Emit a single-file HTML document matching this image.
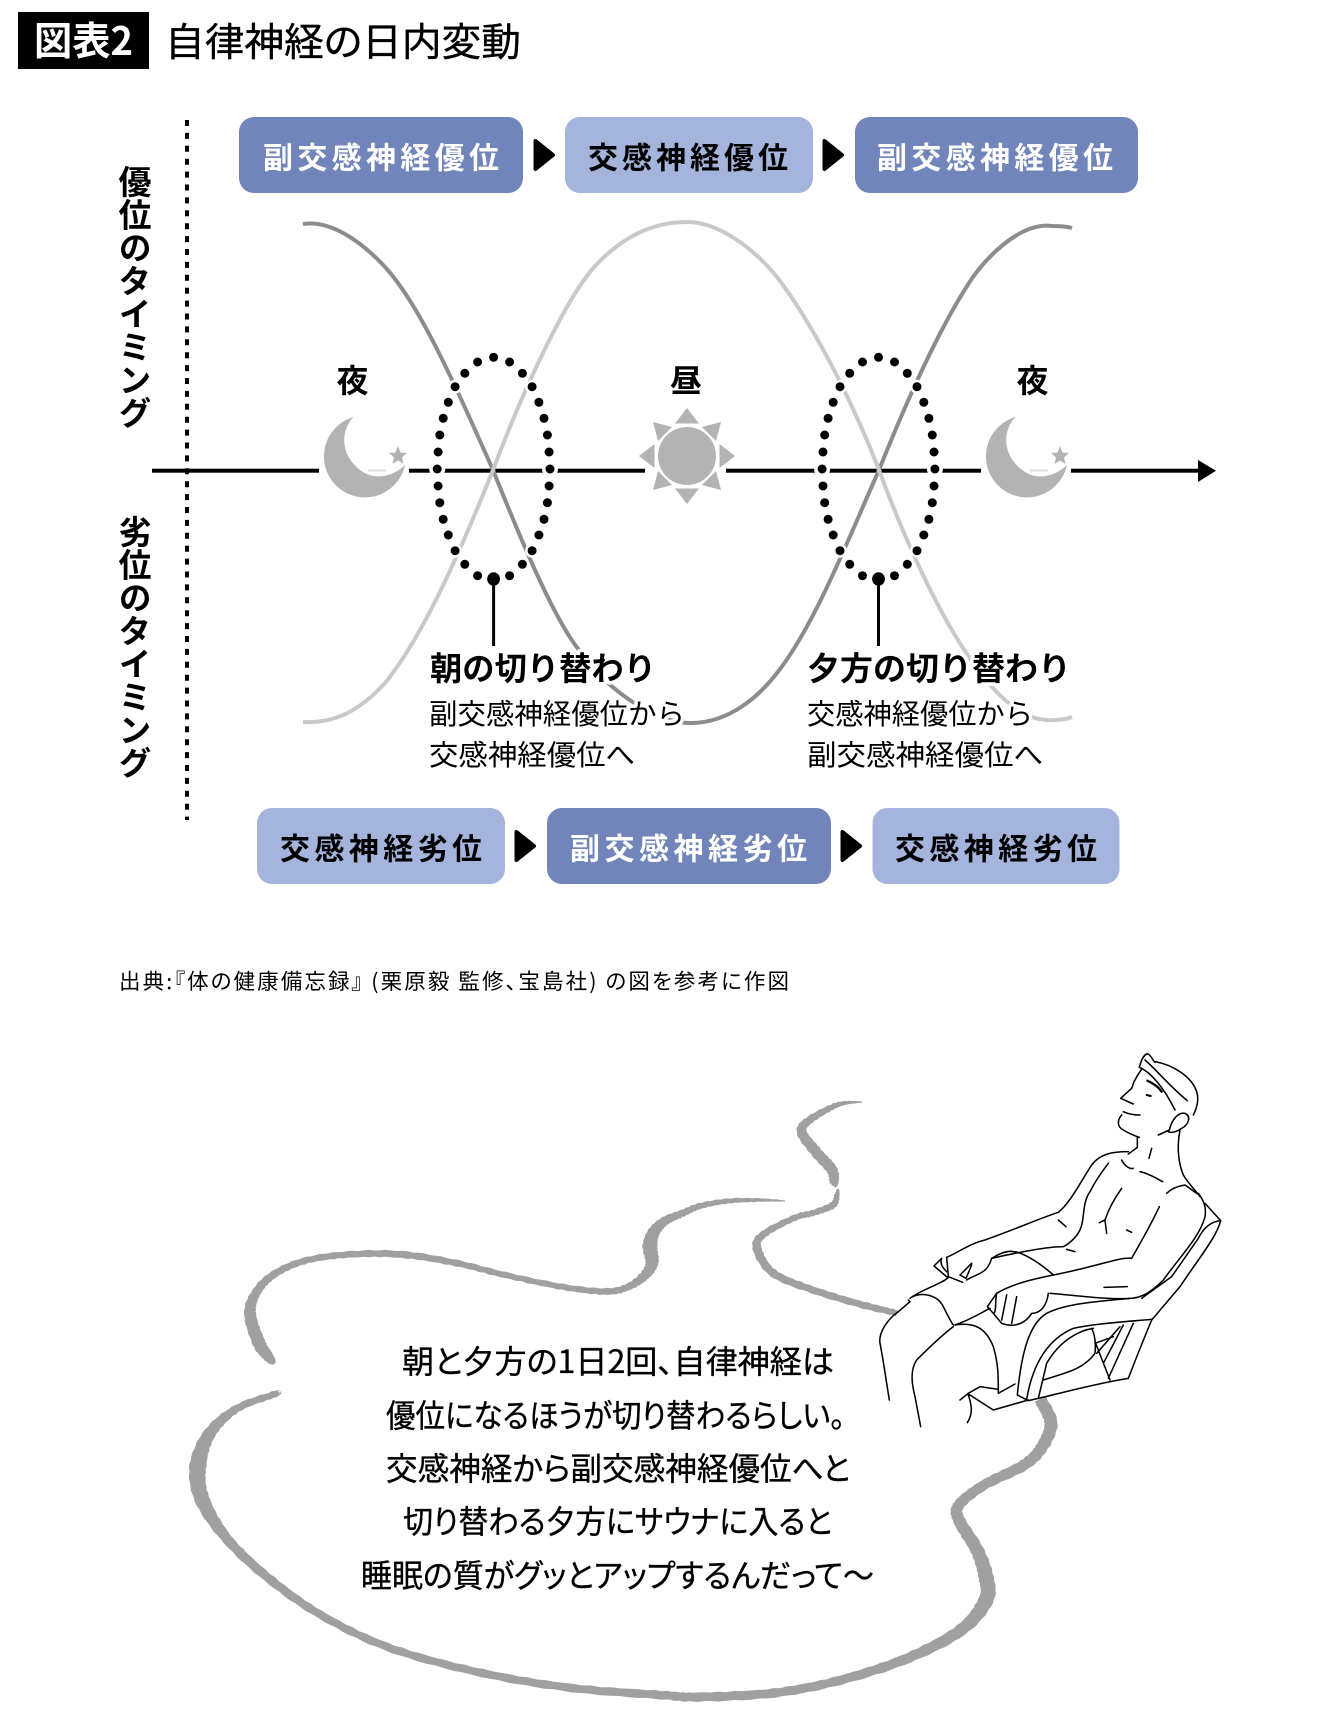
<!DOCTYPE html>
<html lang="ja"><head><meta charset="utf-8"><title>図表2</title>
<style>
html,body{margin:0;padding:0;background:#fff;width:1340px;height:1724px;overflow:hidden}
svg{display:block}
text{font-family:"Liberation Sans","Noto Sans CJK JP",sans-serif;fill:#000}
.b{font-weight:700}
.halo{paint-order:stroke;stroke:#fff;stroke-width:7px;stroke-linejoin:round}
.w{fill:#fff}
.k{fill:#000}
.n{font-family:"Noto Sans CJK JP",sans-serif;font-feature-settings:"palt"}
.m{stroke:#000;stroke-width:.35px}
</style></head><body>
<svg width="1340" height="1724" viewBox="0 0 1340 1724" xmlns="http://www.w3.org/2000/svg">
<defs>
<g id="ring">
<g fill="#fff">
<circle cx="0" cy="357.3" r="7"/><circle cx="-16" cy="362" r="7"/><circle cx="16" cy="362" r="7"/><circle cx="-28.8" cy="373.3" r="7"/><circle cx="28.8" cy="373.3" r="7"/><circle cx="-38.5" cy="386.7" r="7"/><circle cx="38.5" cy="386.7" r="7"/><circle cx="-45.3" cy="402.3" r="7"/><circle cx="45.3" cy="402.3" r="7"/><circle cx="-50.4" cy="418.3" r="7"/><circle cx="50.4" cy="418.3" r="7"/><circle cx="-53.8" cy="435" r="7"/><circle cx="53.8" cy="435" r="7"/><circle cx="-55.5" cy="452" r="7"/><circle cx="55.5" cy="452" r="7"/><circle cx="-56.4" cy="469" r="8"/><circle cx="56.4" cy="469" r="8"/><circle cx="-55.5" cy="486" r="7"/><circle cx="55.5" cy="486" r="7"/><circle cx="-53.8" cy="502.7" r="7"/><circle cx="53.8" cy="502.7" r="7"/><circle cx="-50.4" cy="519.3" r="7"/><circle cx="50.4" cy="519.3" r="7"/><circle cx="-45.3" cy="535" r="7"/><circle cx="45.3" cy="535" r="7"/><circle cx="-38.5" cy="550.7" r="7"/><circle cx="38.5" cy="550.7" r="7"/><circle cx="-28.8" cy="564.3" r="7"/><circle cx="28.8" cy="564.3" r="7"/><circle cx="-16" cy="575.7" r="7"/><circle cx="16" cy="575.7" r="7"/>
</g>
<g fill="#000">
<circle cx="0" cy="357.3" r="4.5"/><circle cx="-16" cy="362" r="4.5"/><circle cx="16" cy="362" r="4.5"/><circle cx="-28.8" cy="373.3" r="4.5"/><circle cx="28.8" cy="373.3" r="4.5"/><circle cx="-38.5" cy="386.7" r="4.5"/><circle cx="38.5" cy="386.7" r="4.5"/><circle cx="-45.3" cy="402.3" r="4.5"/><circle cx="45.3" cy="402.3" r="4.5"/><circle cx="-50.4" cy="418.3" r="4.5"/><circle cx="50.4" cy="418.3" r="4.5"/><circle cx="-53.8" cy="435" r="4.5"/><circle cx="53.8" cy="435" r="4.5"/><circle cx="-55.5" cy="452" r="4.5"/><circle cx="55.5" cy="452" r="4.5"/><circle cx="-56.4" cy="469" r="4.5"/><circle cx="56.4" cy="469" r="4.5"/><circle cx="-55.5" cy="486" r="4.5"/><circle cx="55.5" cy="486" r="4.5"/><circle cx="-53.8" cy="502.7" r="4.5"/><circle cx="53.8" cy="502.7" r="4.5"/><circle cx="-50.4" cy="519.3" r="4.5"/><circle cx="50.4" cy="519.3" r="4.5"/><circle cx="-45.3" cy="535" r="4.5"/><circle cx="45.3" cy="535" r="4.5"/><circle cx="-38.5" cy="550.7" r="4.5"/><circle cx="38.5" cy="550.7" r="4.5"/><circle cx="-28.8" cy="564.3" r="4.5"/><circle cx="28.8" cy="564.3" r="4.5"/><circle cx="-16" cy="575.7" r="4.5"/><circle cx="16" cy="575.7" r="4.5"/>
<ellipse cx="0" cy="579" rx="6.4" ry="6.8"/>
<rect x="-1.5" y="579" width="3" height="67"/>
</g>
</g>
<g id="moon">
<rect x="-6" y="464" width="90" height="13" fill="#fff"/>
<rect x="43" y="469.5" width="18" height="2" fill="#ddd"/>
<path d="M28.5 417 A41 41 0 1 0 80 465 C70 475 52 481 38 472 C16 458 14 432 28.5 417Z" fill="#b3b3b3"/>
<path d="M73 446 L75.5 452.5 L82 453 L77 457.5 L78.5 464 L73 460.5 L67.5 464 L69 457.5 L64 453 L70.500 452.5Z" fill="#b3b3b3"/>
</g>
</defs>

<!-- header -->
<rect x="18" y="12" width="131" height="57" fill="#000"/>
<text class="n b w" x="34" y="55" font-size="39" textLength="99" lengthAdjust="spacingAndGlyphs">図表2</text>
<text class="n m" x="165" y="56" font-size="39" textLength="356" lengthAdjust="spacingAndGlyphs" fill="#222">自律神経の日内変動</text>

<!-- vertical dotted -->
<line x1="187" y1="120" x2="187" y2="820" stroke="#000" stroke-width="4" stroke-dasharray="6 6.9"/>

<!-- vertical labels -->
<text class="b k" font-size="33" style="writing-mode:vertical-rl;letter-spacing:0" x="132.500" y="165">優位のタイミング</text>
<text class="b k" font-size="33" style="writing-mode:vertical-rl;letter-spacing:0" x="132.500" y="515">劣位のタイミング</text>

<!-- axis -->
<rect x="152" y="468.700" width="1048" height="4" fill="#000"/>
<polygon points="1198,460 1216,470.700 1198,482" fill="#000"/>

<!-- curves -->
<path d="M303 224 C330 220 360 240 385 267 C420 305 455 385 493 470 C525 550 555 620 579 650 C600 682 650 723 691 723 C730 723 760 695 777 673 C815 625 850 535 879 470 C915 380 945 320 969 283 C985 258 1020 222 1052 226 Q1065 226 1072 228" fill="none" stroke="#8c8c8c" stroke-width="4"/>
<path d="M303 722 C340 724 365 705 385 683 C420 640 455 565 493 470 C525 385 570 290 598 263 C625 235 655 222 687 222 C720 222 755 250 777 277 C810 320 850 395 879 470 C905 540 935 605 963 648 C990 690 1020 722 1052 720 Q1065 720 1072 717" fill="none" stroke="#c9c9c9" stroke-width="4"/>

<!-- dotted ellipses -->
<use href="#ring" transform="translate(493.6 0)"/>
<use href="#ring" transform="translate(878.5 0)"/>

<!-- moons -->
<use href="#moon" transform="translate(325 0)"/>
<use href="#moon" transform="translate(987 0)"/>

<!-- sun -->
<rect x="645" y="464" width="81" height="13" fill="#fff"/>
<g fill="#b3b3b3">
<circle cx="687" cy="456" r="29"/>
<polygon points="687,408 675,423.500 699,423.500"/>
<polygon points="687,504 675,488.500 699,488.500"/>
<polygon points="735,456 719.500,444 719.500,468"/>
<polygon points="639,456 654.500,444 654.500,468"/>
<polygon points="721,422 702,427 716,441"/>
<polygon points="653,422 672,427 658,441"/>
<polygon points="721,490 702,485 716,471"/>
<polygon points="653,490 672,485 658,471"/>
</g>

<text class="b k" font-size="32" x="352.500" y="392" text-anchor="middle">夜</text>
<text class="b k" font-size="32" x="686" y="392" text-anchor="middle">昼</text>
<text class="b k" font-size="32" x="1032.500" y="392" text-anchor="middle">夜</text>

<!-- top pills -->
<rect x="239" y="117" width="284" height="76" rx="15" fill="#7285bb"/>
<rect x="565" y="117" width="248" height="76" rx="15" fill="#a5b4dc"/>
<rect x="855" y="117" width="283" height="76" rx="15" fill="#7285bb"/>
<polygon points="535.500,141 553,155 535.500,169" fill="#000" stroke="#000" stroke-width="4" stroke-linejoin="round"/>
<polygon points="824.500,141 842,155 824.500,169" fill="#000" stroke="#000" stroke-width="4" stroke-linejoin="round"/>
<text class="b w" font-size="30" x="263" y="168.500" textLength="236">副交感神経優位</text>
<text class="b k" font-size="30" x="588" y="168.500" textLength="200">交感神経優位</text>
<text class="b w" font-size="30" x="877" y="168.500" textLength="236">副交感神経優位</text>

<!-- bottom pills -->
<rect x="257" y="808" width="248" height="76" rx="15" fill="#a5b4dc"/>
<rect x="547" y="808" width="284" height="76" rx="15" fill="#7285bb"/>
<rect x="872.500" y="808" width="247" height="76" rx="15" fill="#a5b4dc"/>
<polygon points="516.500,832 534,846 516.500,860" fill="#000" stroke="#000" stroke-width="4" stroke-linejoin="round"/>
<polygon points="842.500,832 860,846 842.500,860" fill="#000" stroke="#000" stroke-width="4" stroke-linejoin="round"/>
<text class="b k" font-size="30" x="280" y="859.500" textLength="202">交感神経劣位</text>
<text class="b w" font-size="30" x="570" y="859.500" textLength="237">副交感神経劣位</text>
<text class="b k" font-size="30" x="895" y="859.500" textLength="202">交感神経劣位</text>

<!-- labels -->
<text class="b k halo" font-size="32.500" x="430" y="680" textLength="226" lengthAdjust="spacingAndGlyphs">朝の切り替わり</text>
<text class="halo" font-size="28.500" x="429" y="724" textLength="256" lengthAdjust="spacingAndGlyphs">副交感神経優位から</text>
<text class="halo" font-size="28.500" x="429" y="765" textLength="206" lengthAdjust="spacingAndGlyphs">交感神経優位へ</text>
<text class="b k halo" font-size="32.500" x="807" y="680" textLength="264" lengthAdjust="spacingAndGlyphs">夕方の切り替わり</text>
<text class="halo" font-size="28.500" x="807" y="724" textLength="226" lengthAdjust="spacingAndGlyphs">交感神経優位から</text>
<text class="halo" font-size="28.500" x="807" y="765" textLength="236" lengthAdjust="spacingAndGlyphs">副交感神経優位へ</text>

<!-- source -->
<text font-family="Noto Sans CJK JP" font-size="21.500" x="119" y="989" textLength="670" lengthAdjust="spacing" style="font-family:'Noto Sans CJK JP',sans-serif;font-feature-settings:'palt'">出典:『体の健康備忘録』 (栗原毅 監修、宝島社) の図を参考に作図</text>

<!-- speech bubble -->
<g id="bub" fill="none" stroke="#a0a0a0" stroke-width="8" stroke-linecap="round" stroke-linejoin="round">
<path d="M785 1201 C745 1199 683 1208 657 1230 C645 1245 660 1265 639 1281 C610 1295 560 1287 505 1275 C440 1258 350 1248 273 1275 C245 1295 250 1335 272 1361"/>
<path d="M277 1393 C225 1410 190 1440 201 1499 C220 1560 300 1610 393 1649 C500 1685 600 1697 698 1697 C800 1695 900 1665 961 1630 C990 1605 990 1570 959 1520 C950 1500 990 1485 1024 1465 C1050 1445 1055 1420 1040 1399"/>
<path d="M862 1102 C830 1105 800 1120 802 1133 C810 1150 838 1165 833 1186"/>
<path d="M838 1189 C838 1210 780 1215 757 1248 C760 1280 830 1298 897 1313"/>
</g>

<!-- bubble text -->
<g>
<text class="n m" font-size="32" x="402" y="1373" textLength="432" lengthAdjust="spacingAndGlyphs">朝と夕方の1日2回、自律神経は</text>
<text class="n m" font-size="32" x="386" y="1427" textLength="459" lengthAdjust="spacingAndGlyphs">優位になるほうが切り替わるらしい。</text>
<text class="n m" font-size="32" x="386" y="1480" textLength="464" lengthAdjust="spacingAndGlyphs">交感神経から副交感神経優位へと</text>
<text class="n m" font-size="32" x="403" y="1533" textLength="429" lengthAdjust="spacingAndGlyphs">切り替わる夕方にサウナに入ると</text>
<text class="n m" font-size="32" x="361" y="1587" textLength="513" lengthAdjust="spacingAndGlyphs">睡眠の質がグッとアップするんだって～</text>
</g>

<!-- man -->
<g transform="translate(780 1030) scale(.33333)" fill="none" stroke="#000" stroke-width="4.6" stroke-linecap="round" stroke-linejoin="round">
<path d="M1125 95 C1180 105 1235 140 1250 185 C1258 210 1250 235 1240 255"/>
<path d="M1078 112 C1085 85 1095 70 1105 72 C1112 76 1118 90 1125 97"/>
<path d="M1095 90 C1130 120 1170 170 1222 212"/>
<path d="M1078 112 C1110 125 1150 170 1185 240"/>
<path d="M1085 118 C1075 130 1068 145 1062 155 L1055 175 L1022 205 L1060 222"/>
<path d="M1030 245 C1045 252 1065 255 1080 255"/>
<path d="M1025 255 C1012 270 1010 290 1030 300 C1050 312 1065 318 1078 322"/>
<path d="M1072 322 L1072 352 L1045 372"/>
<path d="M1102 152 C1120 160 1135 170 1145 185" stroke-width="7"/>
<path d="M1100 195 L1112 198" stroke-width="6"/>
<path d="M1168 300 C1175 270 1195 245 1215 250 C1235 260 1225 285 1205 295 C1190 305 1175 310 1165 305 M1135 315 L1168 300"/>
<path d="M1200 300 C1190 350 1195 400 1210 435 C1225 460 1245 480 1260 500"/>
<path d="M1045 365 C1000 365 960 370 935 405 C905 450 870 520 835 547"/>
<path d="M835 547 C780 565 700 600 615 630 C570 640 540 665 500 682"/>
<path d="M485 685 L462 708 L502 742 M485 685 C480 700 485 710 500 725"/>
<path d="M500 682 L505 740 L548 757 M575 700 L540 735 L558 745 L575 705"/>
<path d="M560 750 C590 730 620 735 635 685 C650 675 680 660 700 665 C720 665 770 690 820 735"/>
<path d="M635 685 C700 670 800 650 850 650 C870 640 890 620 900 600 C915 570 905 520 930 485 C950 445 970 420 985 400"/>
<path d="M835 570 L858 590 M1025 390 C1035 410 1050 418 1060 415 M1080 425 C1105 430 1130 445 1148 455 M1160 490 C1175 475 1195 468 1215 465 L1250 490"/>
<path d="M1025 475 C1000 510 985 540 975 570 L958 578 M975 570 L980 610 M1040 600 L1055 607 M1115 355 L1107 385"/>
<path d="M1138 530 C1110 590 1080 640 1055 685 C1020 680 950 710 820 735 C770 745 700 760 650 790 L622 830 L640 850 L665 880 C690 890 730 890 755 850 C780 850 800 830 805 790"/>
<path d="M810 790 C880 795 980 810 1050 805 C1080 805 1110 790 1150 750 C1200 680 1260 620 1275 560 C1280 530 1270 510 1255 490"/>
<path d="M972 772 L1042 770 M860 658 L885 665"/>
<path d="M650 790 C645 810 650 850 640 850 M680 795 L665 870 M710 800 L695 880"/>
<path d="M1275 520 L1322 572 C1310 620 1260 680 1200 770 L1115 870"/>
<path d="M1050 805 C950 815 860 820 800 850 C750 880 725 960 712 1095 L745 1112 L775 1105 C860 1085 950 1060 1045 1045 C1070 980 1090 930 1115 870"/>
<path d="M1322 572 C1290 575 1270 595 1255 625 L1175 740 L1085 805"/>
<path d="M1115 868 C1040 875 950 880 880 895 C810 925 760 990 740 1108"/>
<path d="M940 895 C900 900 840 930 800 1000 L775 1105 M790 1050 C850 1030 910 1020 945 970 C948 940 945 915 935 895"/>
<path d="M945 935 L990 1050 M950 970 L1020 890 M985 1045 L1060 880 M970 1000 L1030 885 M1000 920 L945 940"/>
<path d="M355 845 C320 870 295 910 300 940 C310 990 318 1050 328 1110"/>
<path d="M355 845 L390 815 L385 810 M390 805 C420 780 490 760 505 742 M390 805 C415 785 470 790 490 830 C505 860 515 880 520 885 M525 885 C570 870 600 850 630 835"/>
<path d="M520 890 C480 920 440 960 410 990 C390 1020 395 1060 405 1100 L422 1190"/>
<path d="M525 885 C590 875 620 900 640 950 C655 1000 655 1040 655 1090 L705 1062"/>
<path d="M540 1110 L565 1090 L600 1070 L655 1078 M565 1092 L640 1140 L745 1110 M565 1095 C575 1125 580 1150 562 1178"/>
</g>
</svg>
<script>
(function(){
var segs=[
[[785,1201,1],[760,1200,3.5],[728,1201,5],[700,1206,6],[683,1213,7],[665,1221,9],[654,1232,12],[650,1246,15],[652,1262,13],[646,1274,10],[630,1286,7],[607,1291.5,6.5],[563,1287,6],[505,1275,6],[456,1263,6.5],[402,1254.5,7],[348,1254.5,6.5],[304,1261,6.5],[273,1275,7.5],[256,1293,9],[250,1314,12],[259,1343,13],[267,1355,11],[272,1361,8],[274,1364,3]],
[[279,1392,3],[275,1394,6.5],[237,1408.5,7.5],[210,1433,12],[198,1465,17],[202,1499,15],[228,1540,10],[272,1581,9],[326,1618,8],[393,1649,8],[482,1673,8],[572,1688,8],[661,1695,8.5],[698,1697,9],[774,1693,9],[841,1680,9],[908,1658,10],[961,1630,12],[986,1600,15],[986,1577,15],[977,1550,13],[959,1520,12],[959,1505,11],[984,1485,10],[1024,1465,11],[1042,1447,12],[1051,1423,13],[1040,1399,12]],
[[862,1102,1],[845,1103,4],[830,1108,6],[807,1122,8],[802,1133,10],[817,1153,11],[832,1170,11],[834,1183,9],[833,1186,4]],
[[838,1189,2],[837,1195,5],[833,1205,7],[813,1213,6],[795,1217.6,6],[764,1234,7],[757,1248,9],[773,1273,8],[813,1290,7],[863,1305,7],[897,1313,6]]
];
function cr(a,b,c,d,t){return .5*(2*b+(c-a)*t+(2*a-5*b+4*c-d)*t*t+(3*b-a-3*c+d)*t*t*t);}
var g=document.getElementById('bub');if(!g)return;
while(g.firstChild)g.removeChild(g.firstChild);
g.setAttribute('fill','#a0a0a0');g.setAttribute('stroke','none');
segs.forEach(function(p){
 var s=[],i,j,n=10;
 for(i=0;i<p.length-1;i++){
  var a=p[Math.max(i-1,0)],b=p[i],c=p[i+1],d=p[Math.min(i+2,p.length-1)];
  for(j=0;j<n;j++){var t=j/n;s.push([cr(a[0],b[0],c[0],d[0],t),cr(a[1],b[1],c[1],d[1],t),b[2]+(c[2]-b[2])*t]);}
 }
 s.push(p[p.length-1]);
 var L=[],R=[];
 for(i=0;i<s.length;i++){
  var q=s[Math.max(i-1,0)],r=s[Math.min(i+1,s.length-1)];
  var dx=r[0]-q[0],dy=r[1]-q[1],l=Math.sqrt(dx*dx+dy*dy)||1;
  var w=s[i][2]/2;
  var w1=w+.45*Math.sin(i*1.9)*Math.min(1,w/3),w2=w+.45*Math.sin(i*2.7+1)*Math.min(1,w/3);
  L.push((s[i][0]-dy/l*w1).toFixed(1)+' '+(s[i][1]+dx/l*w1).toFixed(1));
  R.unshift((s[i][0]+dy/l*w2).toFixed(1)+' '+(s[i][1]-dx/l*w2).toFixed(1));
 }
 var e=document.createElementNS('http://www.w3.org/2000/svg','path');
 e.setAttribute('d','M'+L.concat(R).join('L')+'Z');
 g.appendChild(e);
});
})();
</script>
</body></html>
